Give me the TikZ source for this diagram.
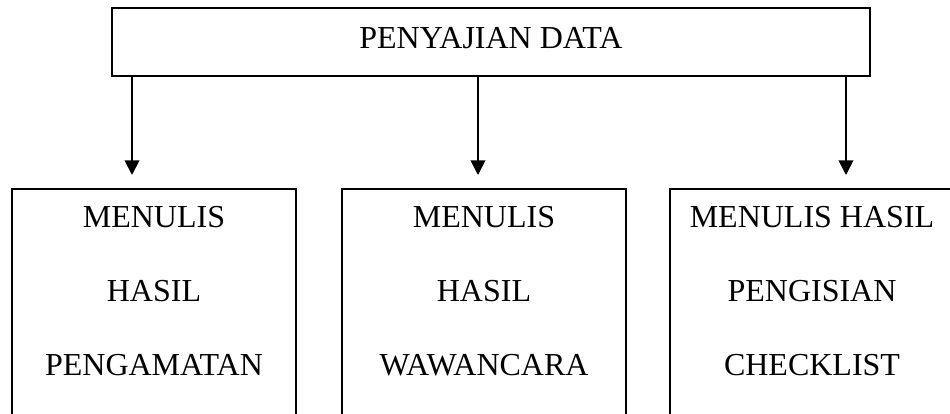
\documentclass[tikz,border=0pt]{standalone}
\usepackage{fontspec}
\setmainfont{Liberation Serif}
\usetikzlibrary{arrows.meta}

\begin{document}
\begin{tikzpicture}[x=0.75pt,y=-0.75pt,
  kotak/.style={draw,line width=1.2pt,anchor=north,align=center,minimum width=213pt,inner ysep=13.5pt,font=\fontsize{24}{55.5}\selectfont},
  panah/.style={line width=1.4pt,-{Triangle[width=11pt,length=11pt]}}]
\useasboundingbox (0,0) rectangle (950,414);
\node[draw,line width=1.2pt,minimum width=568.5pt,minimum height=51pt,text height=16pt,text depth=6pt,font=\fontsize{24}{28}\selectfont] (judul) at (491,42) {PENYAJIAN DATA};

% three boxes, cut off at the bottom
\node[kotak] (amati) at (154,188) {MENULIS\\HASIL\\PENGAMATAN\\\mbox{}};
\node[kotak] (wawan) at (484,188) {MENULIS\\HASIL\\WAWANCARA\\\mbox{}};
\node[kotak] (cek) at (812,188) {MENULIS HASIL\\PENGISIAN\\CHECKLIST\\\mbox{}};

\coordinate (u1) at (132,175);
\coordinate (u2) at (478,175);
\coordinate (u3) at (846,175);
\draw[panah] (judul.south -| u1) -- (u1);
\draw[panah] (judul.south -| u2) -- (u2);
\draw[panah] (judul.south -| u3) -- (u3);
\end{tikzpicture}
\end{document}
